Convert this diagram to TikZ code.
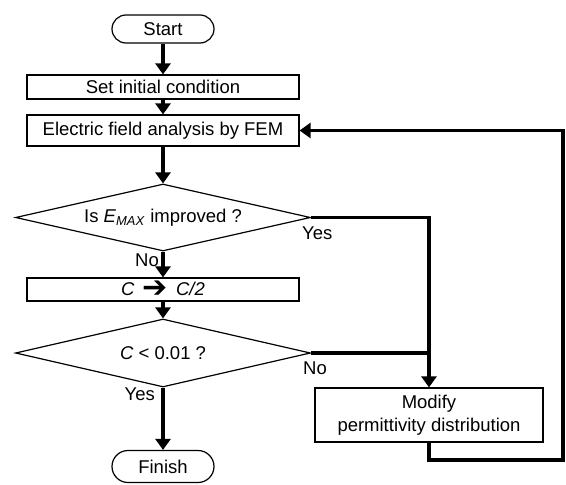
\documentclass[tikz,border=0pt]{standalone}
\usepackage{fontspec}
\setmainfont{Liberation Sans}
\newfontfamily\symfont{DejaVu Sans}
\usepackage{tikz}
\usetikzlibrary{arrows.meta,positioning,shapes.geometric}
\tikzset{
  box/.style={draw,line width=1.2pt,minimum height=24pt,inner sep=0pt},
  decision/.style={draw,diamond,aspect=4.4,line width=1.2pt,minimum width=295pt,
    minimum height=67pt,inner sep=0pt},
  terminal/.style={draw,line width=1.2pt,rounded corners=14pt,
    minimum width=102pt,minimum height=28pt,inner sep=0pt},
  tag/.style={inner sep=0pt},
  every node/.style={font=\fontsize{18.5}{23}\selectfont}
}
\tikzstyle{arrow} = [line width=3.6pt,-{Triangle[width=15pt,length=11pt]}]
\tikzstyle{line} = [line width=3.6pt]

\begin{document}
\begin{tikzpicture}[x=1pt,y=-1pt]
  % Window
  \useasboundingbox (0,0) rectangle (566,485);

  % Main column
  \node[terminal] (start) at (163,29) {Start};
  \node[box,minimum width=272pt] (init) at (163,87) {Set initial condition};
  \node[box,minimum width=272pt,minimum height=31pt] (fem) at (163,130.5)
       {Electric field analysis by FEM};
  \node[decision] (emax) at (163,217.5)
       {Is \textit{E}\textsubscript{\textit{MAX}} improved ?};
  \node[box,minimum width=272pt,minimum height=23pt] (half) at (163,289.5)
       {\textit{C}\, {\symfont\fontsize{30}{23}\selectfont\raisebox{-2.5pt}{➔}}\, \textit{C/2}};
  \node[decision,minimum height=68pt] (conv) at (163,353) {\textit{C} < 0.01 ?};
  \node[terminal,minimum height=32pt,rounded corners=16pt] (finish) at (163,466.5)
       {Finish};

  % Side branch
  \node[box,minimum width=228pt,minimum height=54pt,align=center] (modify)
       at (429,415) {Modify\\permittivity distribution};
  \coordinate (loop) at (563,460);

  % Flow
  \draw[arrow] (start) -- (init);
  \draw[arrow] (init) -- (fem);
  \draw[arrow] (fem) -- (emax);
  \draw[arrow] (emax) -- (half);
  \draw[arrow] (half) -- (conv);
  \draw[arrow] (conv) -- (finish);
  \draw[arrow] (emax.east) -| (modify.north);
  \draw[line]  (conv.east) -- (conv.east -| modify.north);
  \draw[arrow] (modify.south) |- (loop) |- (fem.east);

  % Branch labels
  \node[tag,anchor=north west] (yes1) at (302,227) {Yes};
  \node[tag,anchor=north east] (no1)  at (159,254) {No};
  \node[tag,anchor=north west] (no2)  at (303,362) {No};
  \node[tag,anchor=north east] (yes2) at (155,388) {Yes};
\end{tikzpicture}
\end{document}
